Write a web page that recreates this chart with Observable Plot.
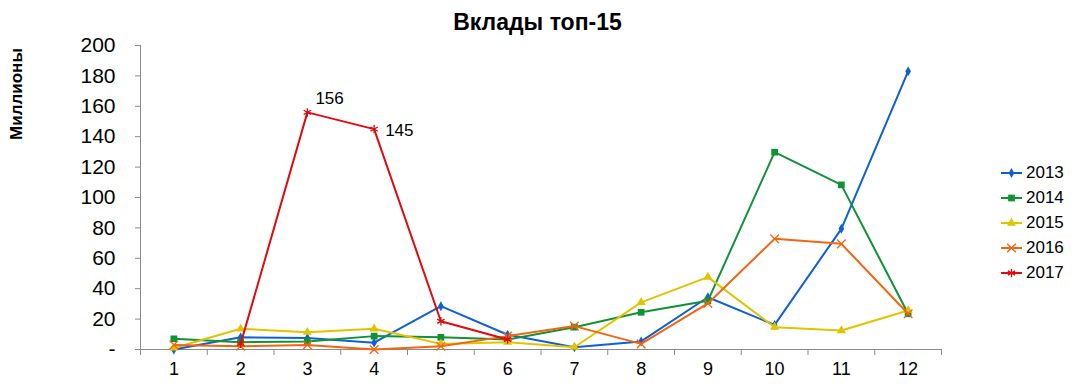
<!DOCTYPE html>
<html>
<head>
<meta charset="utf-8">
<script src="https://cdn.jsdelivr.net/npm/d3@7"></script>
<script src="https://cdn.jsdelivr.net/npm/@observablehq/plot@0.6"></script>
<style>
  body { margin: 0; background: #fff; font-family: "Liberation Sans", Arial, Helvetica, sans-serif; }
  #wrap { position: relative; width: 1075px; height: 391px; overflow: hidden; }
  #chart { position: absolute; left: 0; top: 0; }
  #title { position: absolute; left: 0; width: 1075px; top: 9px; text-align: center; font-weight: bold; font-size: 23px; color: #000; }
  #ylabel { position: absolute; left: 17px; top: 94px; transform: translate(-50%, -50%) rotate(-90deg); font-weight: bold; font-size: 17px; white-space: nowrap; }
  #legend { position: absolute; left: 1001px; top: 160px; font-size: 17px; }
  .item { display: flex; align-items: center; height: 25px; }
  .item svg { margin-right: 3px; }
</style>
</head>
<body>
<div id="wrap">
  <div id="chart"></div>
  <div id="title">Вклады топ-15</div>
  <div id="ylabel">Миллионы</div>
  <div id="legend"></div>
</div>
<script>
const months = [1, 2, 3, 4, 5, 6, 7, 8, 9, 10, 11, 12];
const years = ["2013", "2014", "2015", "2016", "2017"];
const v2013 = [0, 8, 7.5, 4.5, 28.5, 9.7, 1.5, 5.3, 34.4, 16.2, 79.4, 183];
const v2014 = [7, 4.8, 5.3, 8.8, 8, 6.6, 14.7, 24.5, 32, 129.8, 108.3, 23.5];
const v2015 = [1, 13.6, 11.4, 13.6, 3.7, 4.8, 1.5, 31, 47.6, 14.7, 12.5, 25.7];
const v2016 = [3, 2.2, 3, 0, 2.2, 8.8, 15.4, 3.7, 30.3, 72.8, 69.5, 23.5];
const v2017 = [null, 3.7, 156, 145, 18.6, 6.6, null, null, null, null, null, null];
const yTicks = [0, 20, 40, 60, 80, 100, 120, 140, 160, 180, 200];

const colors = ["#0f60d2", "#109236", "#e3c200", "#f3650f", "#e00a0f"];
const symbols = ["diamond", "square", "triangle", "times", "asterisk"];
const filled = [true, true, true, false, false];
const sizes = [3, 3.8, 3.4, 4, 4];
const valuesByYear = [v2013, v2014, v2015, v2016, v2017];

const data = [];
years.forEach((y, k) => months.forEach((m, i) => data.push({year: y, month: m, value: valuesByYear[k][i]})));

const boundaries = d3.range(0.5, months.length + 1, 1);

const marks = [
  Plot.ruleY([0], {stroke: "#8a8a8a"}),
  Plot.ruleX([0.5], {y1: 0, y2: 200, stroke: "#8a8a8a"}),
  Plot.axisY(yTicks, {tickSize: 5, tickPadding: 20, fontSize: 21, stroke: "#8a8a8a",
    tickFormat: d => d === 0 ? "-" : String(d)}),
  Plot.axisX(boundaries, {tickSize: 6, stroke: "#8a8a8a", tickFormat: () => ""}),
  Plot.axisX(months, {tickSize: 0, tickPadding: 13, fontSize: 18, tickFormat: d => String(d)})
];

years.forEach((y, k) => {
  const rows = data.filter(d => d.year === y);
  marks.push(Plot.line(rows, {x: "month", y: "value", stroke: colors[k], strokeWidth: 2}));
  const pts = rows.filter(d => d.value != null);
  marks.push(Plot.dot(pts, filled[k]
    ? {x: "month", y: "value", symbol: () => symbols[k], r: sizes[k], fill: colors[k], stroke: "none"}
    : {x: "month", y: "value", symbol: () => symbols[k], r: sizes[k], stroke: colors[k], strokeWidth: 1.3, fill: "none"}));
});

const r2017 = data.filter(d => d.year === "2017");
marks.push(Plot.text(r2017.filter(d => d.month === 3), {x: "month", y: "value", text: d => String(d.value), textAnchor: "start", dx: 8, dy: -14, fontSize: 17}));
marks.push(Plot.text(r2017.filter(d => d.month === 4), {x: "month", y: "value", text: d => String(d.value), textAnchor: "start", dx: 11, dy: 1, fontSize: 17}));

const chart = Plot.plot({
  width: 1075,
  height: 391,
  marginLeft: 140,
  marginRight: 134,
  marginTop: 45,
  marginBottom: 42,
  style: {fontFamily: "'Liberation Sans', Arial, Helvetica, sans-serif", background: "white", color: "black"},
  x: {domain: [0.5, 12.5], label: null},
  y: {domain: [0, 200], label: null},
  symbol: {type: "identity"},
  marks
});
document.getElementById("chart").appendChild(chart);

const legend = document.getElementById("legend");
years.forEach((y, k) => {
  const item = document.createElement("div");
  item.className = "item";
  const svg = d3.create("svg").attr("width", 22).attr("height", 12);
  svg.append("line").attr("x1", 0).attr("x2", 21).attr("y1", 6).attr("y2", 6).attr("stroke", colors[k]).attr("stroke-width", 2);
  const sym = {diamond: d3.symbolDiamond, square: d3.symbolSquare, triangle: d3.symbolTriangle, times: d3.symbolTimes, asterisk: d3.symbolAsterisk}[symbols[k]];
  const p = svg.append("path").attr("transform", "translate(10.5,6)").attr("d", d3.symbol(sym, sizes[k] * sizes[k] * Math.PI)());
  if (filled[k]) p.attr("fill", colors[k]); else p.attr("fill", "none").attr("stroke", colors[k]).attr("stroke-width", 1.3);
  item.appendChild(svg.node());
  const t = document.createElement("span");
  t.textContent = y;
  item.appendChild(t);
  legend.appendChild(item);
});
</script>
</body>
</html>
